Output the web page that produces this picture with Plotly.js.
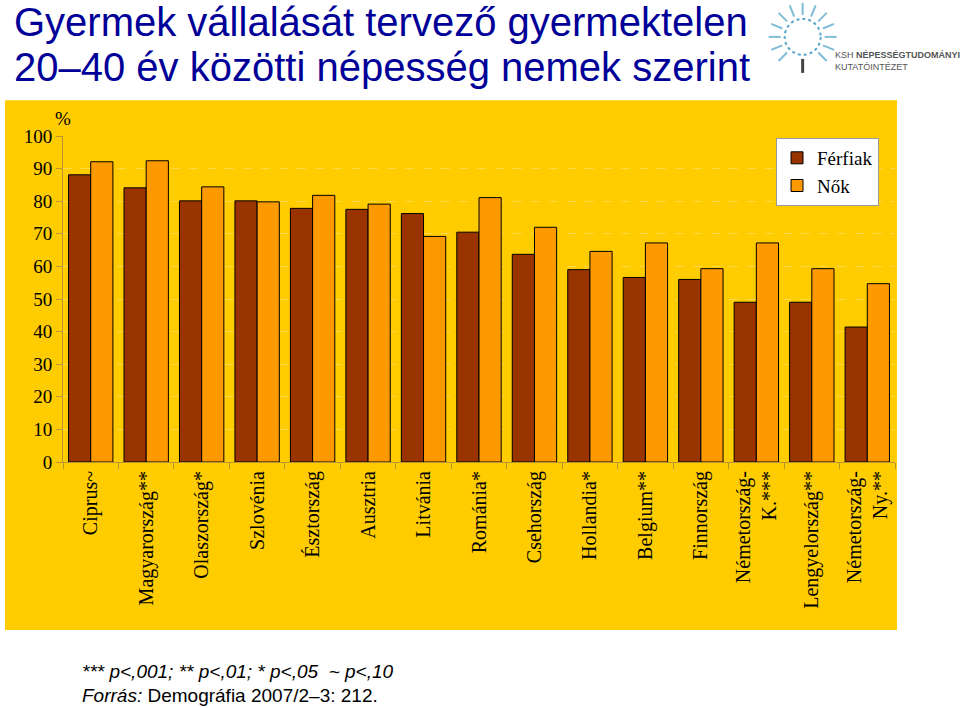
<!DOCTYPE html>
<html>
<head>
<meta charset="utf-8">
<script src="https://cdn.plot.ly/plotly-3.0.1.min.js"></script>
<style>
  body { margin: 0; background: #fff; }
  #chart { width: 960px; height: 708px; }
</style>
</head>
<body>
<div id="chart"></div>
<script>
var countries = ['Ciprus~', 'Magyarország**', 'Olaszország*', 'Szlovénia', 'Észtország', 'Ausztria',
  'Litvánia', 'Románia*', 'Csehország', 'Hollandia*', 'Belgium**', 'Finnország',
  'Németország-<br>K.***', 'Lengyelország**', 'Németország-<br>Ny.**'];
var men = [88.1, 84.1, 80.1, 80.1, 77.8, 77.5, 76.2, 70.5, 63.7, 59.0, 56.6, 56.0, 49.0, 49.0, 41.4];
var women = [92.1, 92.4, 84.4, 79.8, 81.8, 79.1, 69.2, 81.1, 72.0, 64.6, 67.2, 59.3, 67.2, 59.3, 54.7];

var serif = 'Liberation Serif, Times New Roman, serif';
var sans = 'Liberation Sans, Arial, sans-serif';
var axisCol = '#b8962e';

var trace1 = {
  x: countries,
  y: men,
  type: 'bar',
  name: 'Férfiak',
  marker: { color: '#993300', line: { color: '#000', width: 1 } },
  hoverinfo: 'skip'
};

var trace2 = {
  x: countries,
  y: women,
  type: 'bar',
  name: 'Nők',
  marker: { color: '#ff9900', line: { color: '#000', width: 1 } },
  hoverinfo: 'skip'
};

// yellow panel behind the chart
var shapes = [{
  type: 'rect', xref: 'paper', yref: 'paper', layer: 'below',
  x0: -0.0697, x1: 1.0024, y0: -0.515, y1: 1.11,
  fillcolor: '#ffcc00', line: { width: 0 }
}];
// logo: dotted ring with little rays
var cx = 0.889, cy = 1.304;
shapes.push({
  type: 'circle', xref: 'paper', yref: 'paper',
  x0: cx - 18 / 832, x1: cx + 18 / 832, y0: cy - 18 / 326, y1: cy + 18 / 326,
  line: { color: '#5aa7c8', width: 2, dash: 'dot' }
});
for (var i = 0; i < 16; i++) {
  var a = Math.PI * 2 * i / 16;
  if (a > 1.3 * Math.PI && a < 1.7 * Math.PI) continue;
  shapes.push({
    type: 'line', xref: 'paper', yref: 'paper',
    x0: cx + Math.cos(a) * 22 / 832, y0: cy + Math.sin(a) * 22 / 326,
    x1: cx + Math.cos(a) * 34 / 832, y1: cy + Math.sin(a) * 34 / 326,
    line: { color: '#7fbcd6', width: 2 }
  });
}
shapes.push({
  type: 'line', xref: 'paper', yref: 'paper',
  x0: cx, x1: cx, y0: cy - 22 / 326, y1: cy - 36 / 326,
  line: { color: '#444', width: 3 }
});

var layout = {
  width: 960,
  height: 708,
  margin: { l: 63, r: 65, t: 136, b: 246 },
  paper_bgcolor: '#fff',
  plot_bgcolor: '#ffcc00',
  barmode: 'group',
  bargap: 0.2,
  bargroupgap: 0,
  showlegend: true,
  legend: {
    x: 0.857, y: 0.994, xanchor: 'left', yanchor: 'top',
    bgcolor: '#fff', bordercolor: '#999', borderwidth: 1,
    font: { family: serif, size: 19, color: '#000' },
    traceorder: 'normal', itemwidth: 30
  },
  xaxis: {
    tickangle: -90,
    tickfont: { family: serif, size: 20, color: '#000' },
    showline: true, linecolor: axisCol, linewidth: 1,
    ticks: 'outside', tickson: 'boundaries', ticklen: 6, tickcolor: axisCol,
    showgrid: false, fixedrange: true
  },
  yaxis: {
    range: [0, 100],
    dtick: 10,
    tickfont: { family: serif, size: 19, color: '#000' },
    showline: true, linecolor: axisCol, linewidth: 1,
    ticks: 'outside', ticklen: 6, tickcolor: axisCol,
    showgrid: true, gridcolor: '#ffd94a', griddash: 'dash', gridwidth: 1,
    zeroline: false, fixedrange: true
  },
  shapes: shapes,
  annotations: [
    { text: 'Gyermek vállalását tervező gyermektelen', xref: 'paper', yref: 'paper',
      x: -0.0613, y: 1.350, xanchor: 'left', yanchor: 'middle', showarrow: false,
      font: { family: sans, size: 40, color: '#000099' } },
    { text: '20–40 év közötti népesség nemek szerint', xref: 'paper', yref: 'paper',
      x: -0.0613, y: 1.212, xanchor: 'left', yanchor: 'middle', showarrow: false,
      font: { family: sans, size: 40, color: '#000099' } },
    { text: '%', xref: 'paper', yref: 'paper', x: 0.0, y: 1.055, xanchor: 'center', yanchor: 'middle',
      showarrow: false, font: { family: serif, size: 19, color: '#000' } },
    { text: '<i>*** p<,001; ** p<,01; * p<,05  ~ p<,10</i>', xref: 'paper', yref: 'paper',
      x: 0.0204, y: -0.644, xanchor: 'left', yanchor: 'middle', showarrow: false,
      font: { family: 'Liberation Sans Narrow, Liberation Sans, Arial, sans-serif', size: 19, color: '#000' } },
    { text: '<i>Forrás:</i> Demográfia 2007/2–3: 212.', xref: 'paper', yref: 'paper',
      x: 0.0204, y: -0.716, xanchor: 'left', yanchor: 'middle', showarrow: false,
      font: { family: 'Liberation Sans Narrow, Liberation Sans, Arial, sans-serif', size: 19, color: '#000' } },
    { text: 'KSH <b>NÉPESSÉGTUDOMÁNYI</b><br>KUTATÓINTÉZET', xref: 'paper', yref: 'paper',
      x: 0.926, y: 1.230, xanchor: 'left', yanchor: 'middle', align: 'left', showarrow: false,
      font: { family: sans, size: 9, color: '#555' } }
  ]
};

Plotly.newPlot('chart', [trace1, trace2], layout, { displayModeBar: false, staticPlot: true });
</script>
</body>
</html>
